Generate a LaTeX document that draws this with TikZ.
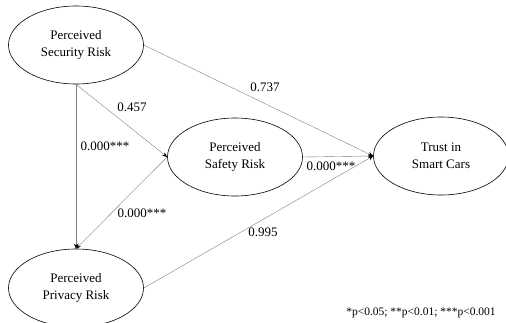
\documentclass[tikz,border=0pt]{standalone}
\usepackage{fontspec}
\setmainfont{Liberation Serif}
\usetikzlibrary{arrows.meta,shapes.geometric}

\begin{document}
\begin{tikzpicture}[x=1pt, y=-1pt,
    construct/.style={draw, ellipse, line width=0.6pt, minimum width=135pt, minimum height=78pt,
      inner sep=0pt, align=center, font=\fontsize{13}{17}\selectfont},
    path/.style={draw=gray, line width=0.4pt, -{Stealth[black, length=5pt, width=4pt]}},
    coef/.style={font=\fontsize{13}{15}\selectfont}]
  \useasboundingbox (0,0) rectangle (506,322);

  % Constructs
  \node[construct] (security) at (76,45) {Perceived\\Security Risk};
  \node[construct] (safety) at (235,157) {Perceived\\Safety Risk};
  \node[construct] (trust) at (441,156) {Trust in\\Smart Cars};
  \node[construct] (privacy) at (76,288) {Perceived\\Privacy Risk};

  % Paths
  \draw[path] (security.east) -- (trust.west);
  \draw[path] (security.south) -- (safety.west);
  \draw[path] (security.south) -- (privacy.north);
  \draw[path] (safety.west) -- (privacy.north);
  \draw[path] (safety.east) -- (trust.west);
  \draw[path] (privacy.east) -- (trust.west);

  % Coefficients
  \node[coef] (c737) at (265,87) {0.737};
  \node[coef] (c457) at (132,107) {0.457};
  \node[coef, anchor=west] (cvert) at (77,146) {0.000***};
  \node[coef] (cdiag) at (142,213) {0.000***};
  \node[coef] (cmed) at (331,166) {0.000***};
  \node[coef] (c995) at (263,232) {0.995};

  % Note
  \node[font=\fontsize{11.5}{13}\selectfont] (note) at (421,313) {*p<0.05; **p<0.01; ***p<0.001};
\end{tikzpicture}
\end{document}
